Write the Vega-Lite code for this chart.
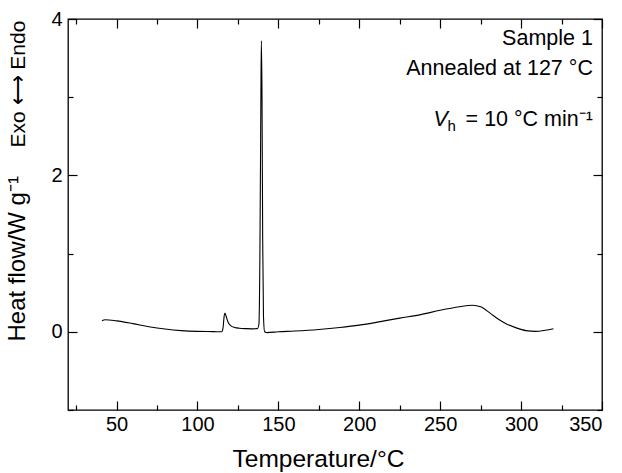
{
  "$schema": "https://vega.github.io/schema/vega-lite/v6.json",
  "width": 534,
  "height": 391,
  "autosize": {"type": "none"},
  "padding": {"left": 68, "top": 19, "right": 20, "bottom": 63},
  "background": "white",
  "config": {
    "view": {"stroke": "#000", "strokeWidth": 1.3},
    "font": "Liberation Sans",
    "axis": {
      "domain": false, "grid": false,
      "tickColor": "#000", "tickWidth": 1.2,
      "labelColor": "#000", "titleColor": "#000",
      "labelFont": "Liberation Sans", "titleFont": "Liberation Sans",
      "titleFontWeight": "normal", "labelFontSize": 20, "titleFontSize": 24
    }
  },
  "datasets": {
    "curve": [
      {"T": 41, "H": 0.14}, {"T": 43, "H": 0.155}, {"T": 50, "H": 0.14}, {"T": 60, "H": 0.105},
      {"T": 70, "H": 0.065}, {"T": 80, "H": 0.035}, {"T": 90, "H": 0.015}, {"T": 100, "H": 0.005},
      {"T": 110, "H": 0.002}, {"T": 115, "H": 0.0}, {"T": 115.8, "H": 0.05}, {"T": 116.5, "H": 0.2},
      {"T": 117, "H": 0.24}, {"T": 118, "H": 0.18}, {"T": 119, "H": 0.12}, {"T": 120.5, "H": 0.08},
      {"T": 123, "H": 0.055}, {"T": 126, "H": 0.045}, {"T": 130, "H": 0.04}, {"T": 134, "H": 0.038},
      {"T": 137, "H": 0.04}, {"T": 138, "H": 0.1}, {"T": 138.6, "H": 1.0}, {"T": 139.2, "H": 3.0},
      {"T": 139.5, "H": 3.72}, {"T": 139.9, "H": 3.0}, {"T": 140.3, "H": 1.2}, {"T": 140.8, "H": 0.2},
      {"T": 141.5, "H": 0.0}, {"T": 143, "H": -0.01}, {"T": 150, "H": 0.0}, {"T": 160, "H": 0.01},
      {"T": 175, "H": 0.03}, {"T": 188, "H": 0.055}, {"T": 200, "H": 0.085}, {"T": 213, "H": 0.13},
      {"T": 225, "H": 0.175}, {"T": 238, "H": 0.22}, {"T": 250, "H": 0.275}, {"T": 262, "H": 0.32},
      {"T": 270, "H": 0.34}, {"T": 275, "H": 0.32}, {"T": 281, "H": 0.235}, {"T": 286, "H": 0.16},
      {"T": 291, "H": 0.1}, {"T": 297, "H": 0.05}, {"T": 303, "H": 0.015}, {"T": 309, "H": 0.005},
      {"T": 315, "H": 0.02}, {"T": 320, "H": 0.04}
    ],
    "notes": [
      {"T": 344.4, "H": 3.667, "label": "Sample 1"},
      {"T": 344.4, "H": 3.28, "label": "Annealed at 127 °C"},
      {"T": 344.4, "H": 2.63, "label": "= 10 °C min⁻¹"}
    ],
    "vsym": [{"T": 344.4, "H": 2.63}]
  },
  "layer": [
    {
      "data": {"name": "curve"},
      "mark": {"type": "line", "color": "#000", "strokeWidth": 1.1, "interpolate": "monotone"},
      "encoding": {
        "x": {"field": "T", "type": "quantitative", "scale": {"domain": [20, 350], "nice": false, "zero": false},
          "axis": {"orient": "bottom", "values": [25,50,75,100,125,150,175,200,225,250,275,300,325,350],
            "labelExpr": "datum.value % 50 === 0 ? datum.label : ''",
            "tickSize": {"condition": {"test": "datum.value % 50 === 0", "value": -9}, "value": -5},
            "labelPadding": 13, "title": "Temperature/°C", "titlePadding": 13,
            "titleX": 250, "titleAlign": "center", "titleFontSize": 24.5}},
        "y": {"field": "H", "type": "quantitative", "scale": {"domain": [-1, 4], "nice": false, "zero": false},
          "axis": {"orient": "left", "values": [-1,0,1,2,3,4],
            "labelExpr": "datum.value % 2 === 0 && datum.value >= 0 ? datum.label : ''",
            "tickSize": {"condition": {"test": "datum.value % 2 === 0", "value": -9}, "value": -5},
            "labelPadding": 15, "title": "Heat flow/W g⁻¹",
            "titleAngle": -90, "titleAlign": "left", "titleBaseline": "alphabetic",
            "titleX": -44, "titleY": 322, "titleFontSize": 24}}
      }
    },
    {
      "data": {"name": "notes"},
      "mark": {"type": "text", "align": "right", "baseline": "alphabetic", "fontSize": 21.5, "color": "#000", "font": "Liberation Sans"},
      "encoding": {
        "x": {"field": "T", "type": "quantitative",
          "axis": {"orient": "top", "values": [25,50,75,100,125,150,175,200,225,250,275,300,325,350],
            "labels": false, "title": null,
            "tickSize": {"condition": {"test": "datum.value % 50 === 0", "value": -9}, "value": -5}}},
        "y": {"field": "H", "type": "quantitative",
          "axis": {"orient": "right", "values": [-1,0,1,2,3,4], "labels": false, "title": null,
            "tickSize": {"condition": {"test": "datum.value % 2 === 0", "value": -9}, "value": -5}}},
        "text": {"field": "label"}
      }
    },
    {
      "data": {"name": "vsym"},
      "mark": {"type": "text", "align": "right", "baseline": "alphabetic", "fontSize": 15, "color": "#000", "font": "Liberation Sans", "dx": -137, "dy": 5, "text": "h"},
      "encoding": {
        "x": {"field": "T", "type": "quantitative", "axis": null},
        "y": {"field": "H", "type": "quantitative",
          "axis": {"orient": "left", "ticks": false, "labels": false, "domain": false,
            "title": "Exo ⟷ Endo", "titleAngle": -90, "titleAlign": "left", "titleBaseline": "alphabetic",
            "titleX": -44, "titleY": 128, "titleFontSize": 21}}
      }
    },
    {
      "data": {"name": "vsym"},
      "mark": {"type": "text", "align": "right", "baseline": "alphabetic", "fontSize": 21.5, "fontStyle": "italic", "color": "#000", "font": "Liberation Sans", "dx": -145, "text": "V"},
      "encoding": {
        "x": {"field": "T", "type": "quantitative", "axis": null},
        "y": {"field": "H", "type": "quantitative", "axis": null}
      }
    }
  ],
  "resolve": {"axis": {"x": "independent", "y": "independent"}}
}
